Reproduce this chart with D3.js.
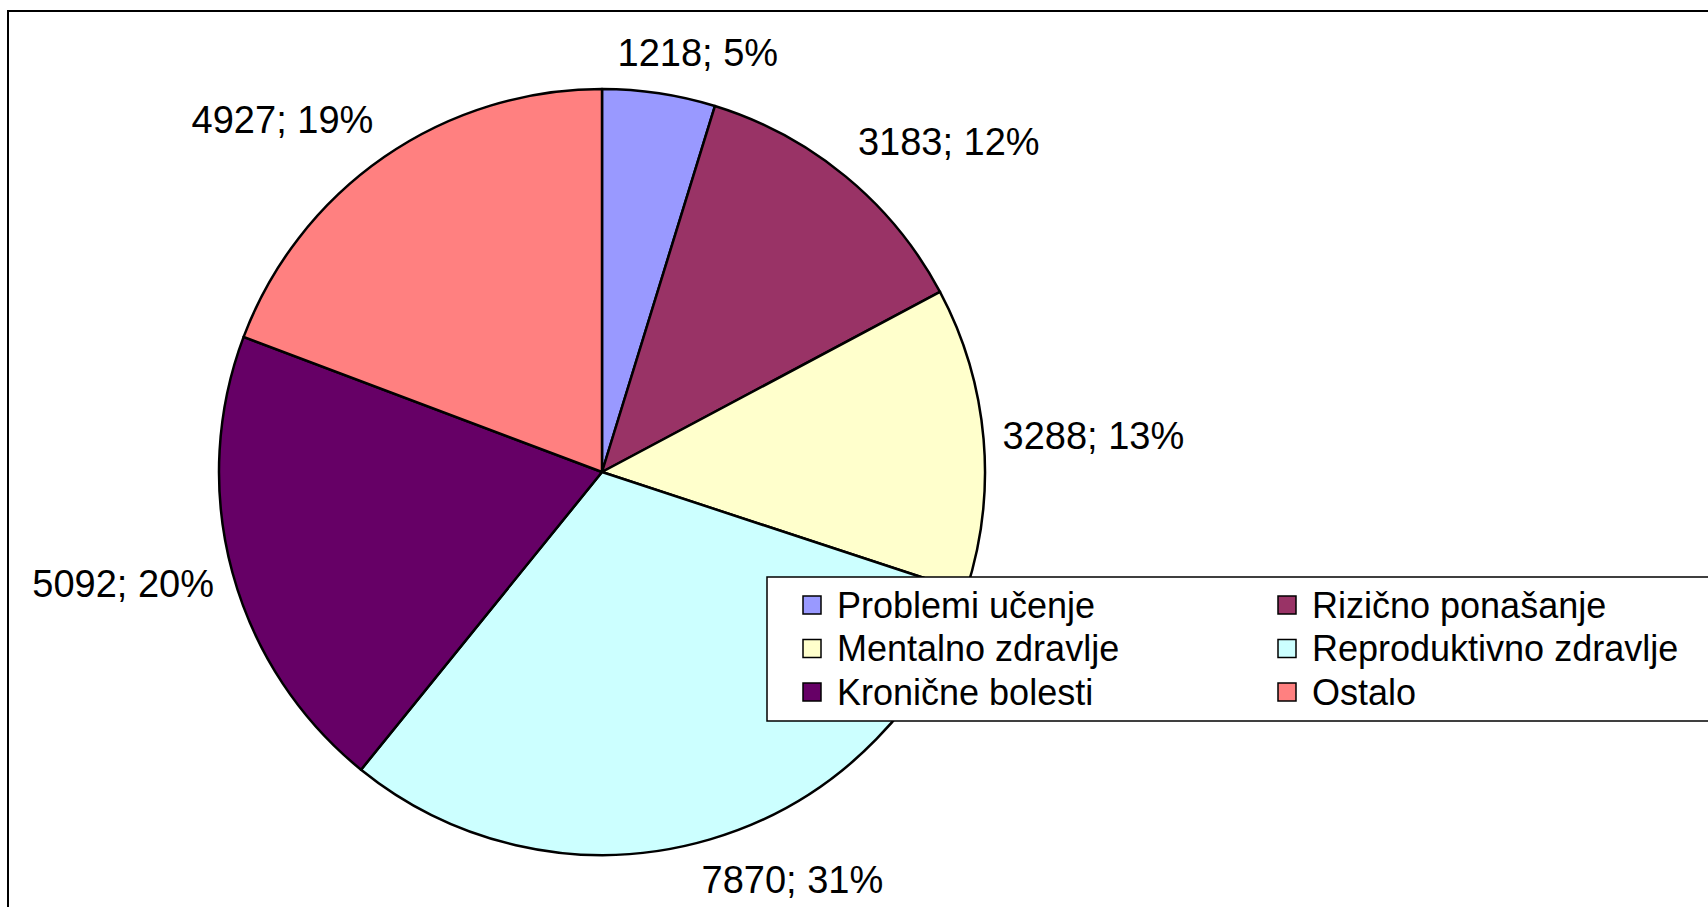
<!DOCTYPE html>
<html>
<head>
<meta charset="utf-8">
<script src="https://cdn.jsdelivr.net/npm/d3@7"></script>
<style>
  html, body { margin: 0; padding: 0; background: #fff; overflow: hidden; }
  text { font-family: "Liberation Sans", Arial, sans-serif; fill: #000; }
</style>
</head>
<body>
<div id="chart_area"></div>
<script>
// data
const categories = ['Problemi učenje', 'Rizično ponašanje', 'Mentalno zdravlje',
  'Reproduktivno zdravlje', 'Kronične bolesti', 'Ostalo'];
const values = [1218, 3183, 3288, 7870, 5092, 4927];
const colors = ['#9999ff', '#993366', '#ffffcc', '#ccffff', '#660066', '#ff8080'];

// layout
const width = 1708;
const height = 907;
const center = { x: 602, y: 472 };
const radius = 383;
const labelGap = 19;
const labelFont = 38;
const legendBox = { x: 767, y: 577, h: 144 };
const legendFont = 36;

const svg = d3.select('#chart_area')
  .append('svg')
  .attr('width', width)
  .attr('height', height);

// outer chart border (runs off the right and bottom)
svg.append('rect')
  .attr('x', 8)
  .attr('y', 11)
  .attr('width', width + 20)
  .attr('height', height + 20)
  .attr('fill', 'none')
  .attr('stroke', '#000')
  .attr('stroke-width', 2);

const color = d3.scaleOrdinal().domain(categories).range(colors);
const total = d3.sum(values);
const data = categories.map((c, i) => ({ name: c, value: values[i] }));

const pie = d3.pie().sort(null).value(d => d.value);
const arcs = pie(data);
const arc = d3.arc().innerRadius(0).outerRadius(radius);

const g = svg.append('g')
  .attr('transform', 'translate(' + center.x + ',' + center.y + ')');

g.selectAll('path')
  .data(arcs)
  .join('path')
  .attr('d', arc)
  .attr('fill', d => color(d.data.name))
  .attr('stroke', '#000')
  .attr('stroke-width', 2.5)
  .attr('stroke-linejoin', 'round');

// data labels: box placed just outside the slice, touching a circle at radius + gap
const clamp = v => Math.max(-1, Math.min(1, v));
const labels = g.selectAll('text.lbl')
  .data(arcs)
  .join('text')
  .attr('class', 'lbl')
  .attr('font-size', labelFont)
  .attr('text-anchor', 'middle')
  .attr('dy', '0.35em')
  .text(d => d.data.value + '; ' + Math.round(d.data.value / total * 100) + '%');

labels.each(function (d) {
  const a = (d.startAngle + d.endAngle) / 2;
  const r = radius + labelGap;
  const px = r * Math.sin(a);
  const py = -r * Math.cos(a);
  const w = this.getComputedTextLength();
  const hh = labelFont / 2 + 3;
  const x = px + (w / 2) * clamp(3.0 * Math.sin(a));
  const y = py - hh * clamp(1.2 * Math.cos(a));
  d3.select(this).attr('x', x).attr('y', y);
});

// legend
const legend = svg.append('g');
legend.append('rect')
  .attr('x', legendBox.x)
  .attr('y', legendBox.y)
  .attr('width', width)
  .attr('height', legendBox.h)
  .attr('fill', '#fff')
  .attr('stroke', '#000')
  .attr('stroke-width', 1.5);

const colX = d3.scaleOrdinal().domain([0, 1]).range([803, 1278]);
const rowY = d3.scaleLinear().domain([0, 1]).range([605, 648.5]);
const sw = 18;

const items = legend.selectAll('g.item')
  .data(categories)
  .join('g')
  .attr('class', 'item')
  .attr('transform', (d, i) =>
    'translate(' + colX(i % 2) + ',' + rowY(Math.floor(i / 2)) + ')');

items.append('rect')
  .attr('x', 0)
  .attr('y', -sw / 2)
  .attr('width', sw)
  .attr('height', sw)
  .attr('fill', d => color(d))
  .attr('stroke', '#000')
  .attr('stroke-width', 1.5);

items.append('text')
  .attr('x', 34)
  .attr('y', 0)
  .attr('dy', '0.35em')
  .attr('font-size', legendFont)
  .text(d => d);
</script>
</body>
</html>
